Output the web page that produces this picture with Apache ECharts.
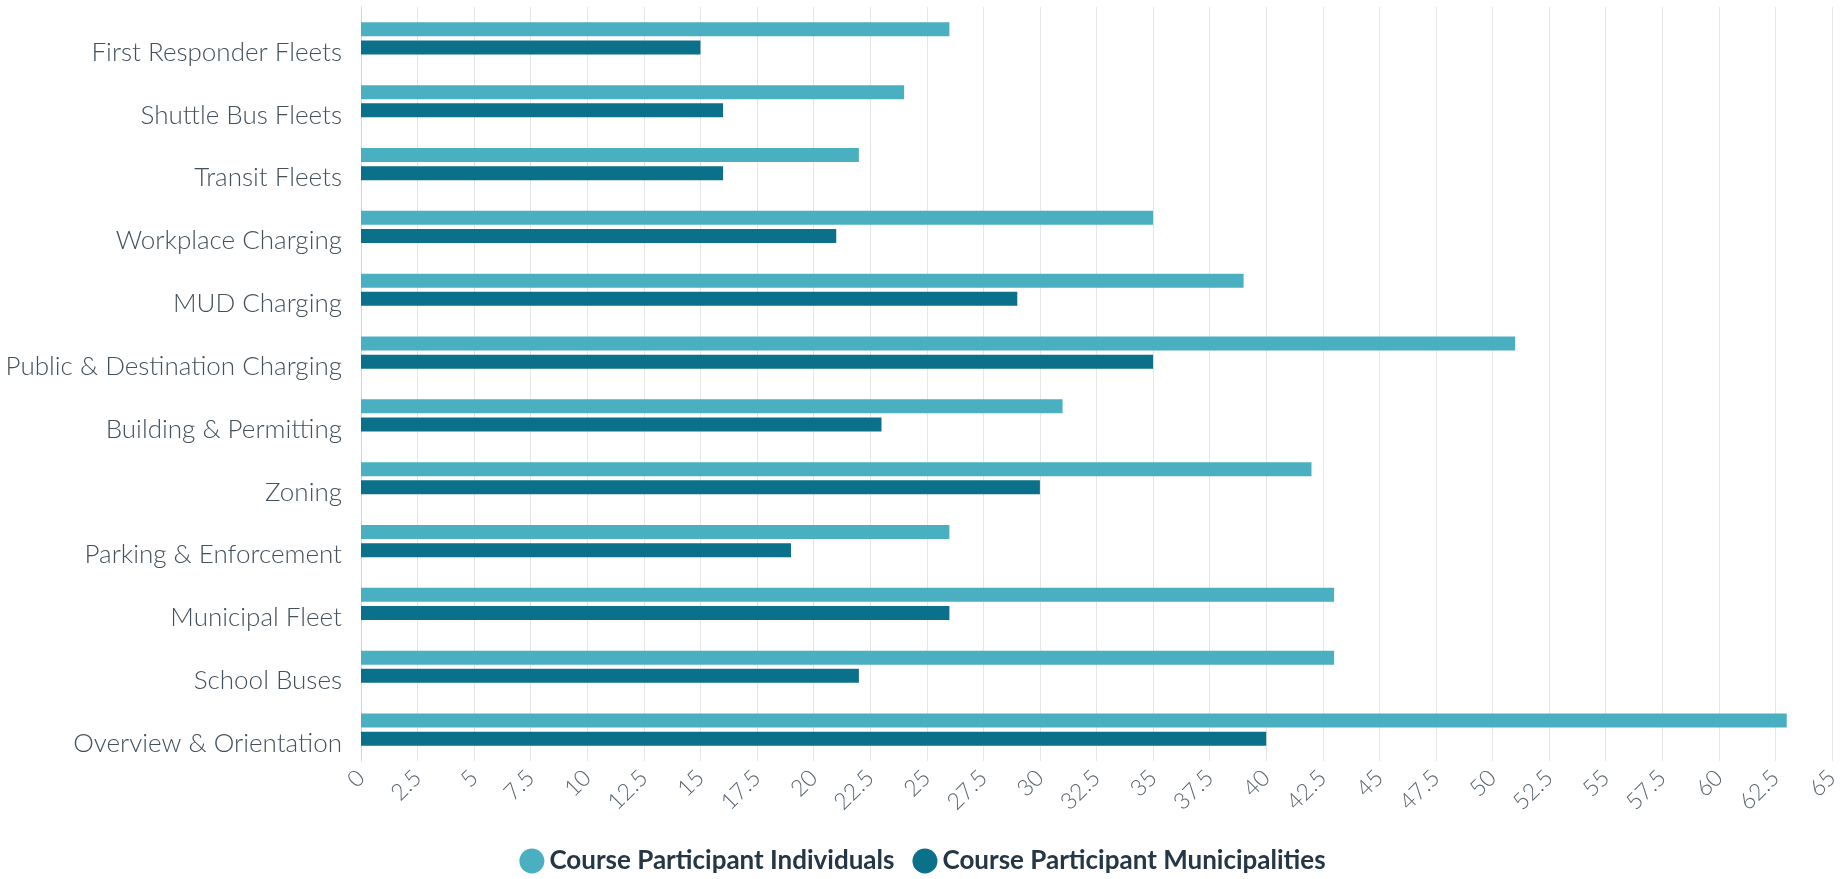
<!DOCTYPE html>
<html>
<head>
<meta charset="utf-8">
<script src="https://cdn.jsdelivr.net/npm/echarts@6/dist/echarts.min.js"></script>
<style>
html,body{margin:0;padding:0;background:#fff;}
#chart{width:1845px;height:879px;}
</style>
</head>
<body>
<div id="chart"></div>
<script>
// Data (top-to-bottom order as in the chart)
const categories = [
  "First Responder Fleets",
  "Shuttle Bus Fleets",
  "Transit Fleets",
  "Workplace Charging",
  "MUD Charging",
  "Public & Destination Charging",
  "Building & Permitting",
  "Zoning",
  "Parking & Enforcement",
  "Municipal Fleet",
  "School Buses",
  "Overview & Orientation"
];
const individuals = [26, 24, 22, 35, 39, 51, 31, 42, 26, 43, 43, 63];
const municipalities = [15, 16, 16, 21, 29, 35, 23, 30, 19, 26, 22, 40];
const seriesNames = ["Course Participant Individuals", "Course Participant Municipalities"];
const axisMin = 0, axisMax = 65, axisStep = 2.5;

const chart = echarts.init(document.getElementById('chart'));
chart.setOption({
  animation: false,
  color: ['#4ab0c1', '#0b718a'],
  textStyle: { fontFamily: 'Lato, "Open Sans", sans-serif' },
  grid: { left: 361, right: 13, top: 7, bottom: 118, containLabel: false },
  legend: {
    bottom: 0,
    left: 'center',
    icon: 'circle',
    itemWidth: 25,
    itemHeight: 25,
    itemGap: 18,
    textStyle: { fontSize: 26, fontWeight: 'bold', color: '#253746', fontFamily: 'Lato' },
    data: seriesNames
  },
  xAxis: {
    type: 'value',
    min: axisMin, max: axisMax, interval: axisStep,
    axisLine: { show: false },
    axisTick: { show: false },
    splitLine: { show: true, lineStyle: { color: '#e6e6e6', width: 1 } },
    axisLabel: { rotate: 45, fontSize: 23, color: '#5b6672', margin: 13, fontFamily: 'Lato', fontWeight: 300 }
  },
  yAxis: {
    type: 'category',
    inverse: true,
    data: categories,
    axisLine: { show: true, lineStyle: { color: '#ccd6eb', width: 1 } },
    axisTick: { show: false },
    splitLine: { show: false },
    axisLabel: { fontSize: 26, color: '#44515c', margin: 19, verticalAlign: 'top', padding: [1, 0, 0, 0], fontFamily: 'Lato', fontWeight: 300 }
  },
  series: [
    { name: seriesNames[0], type: 'bar', data: individuals, barWidth: 14, barGap: '30%' },
    { name: seriesNames[1], type: 'bar', data: municipalities, barWidth: 14, barGap: '30%' }
  ]
});
</script>
</body>
</html>
